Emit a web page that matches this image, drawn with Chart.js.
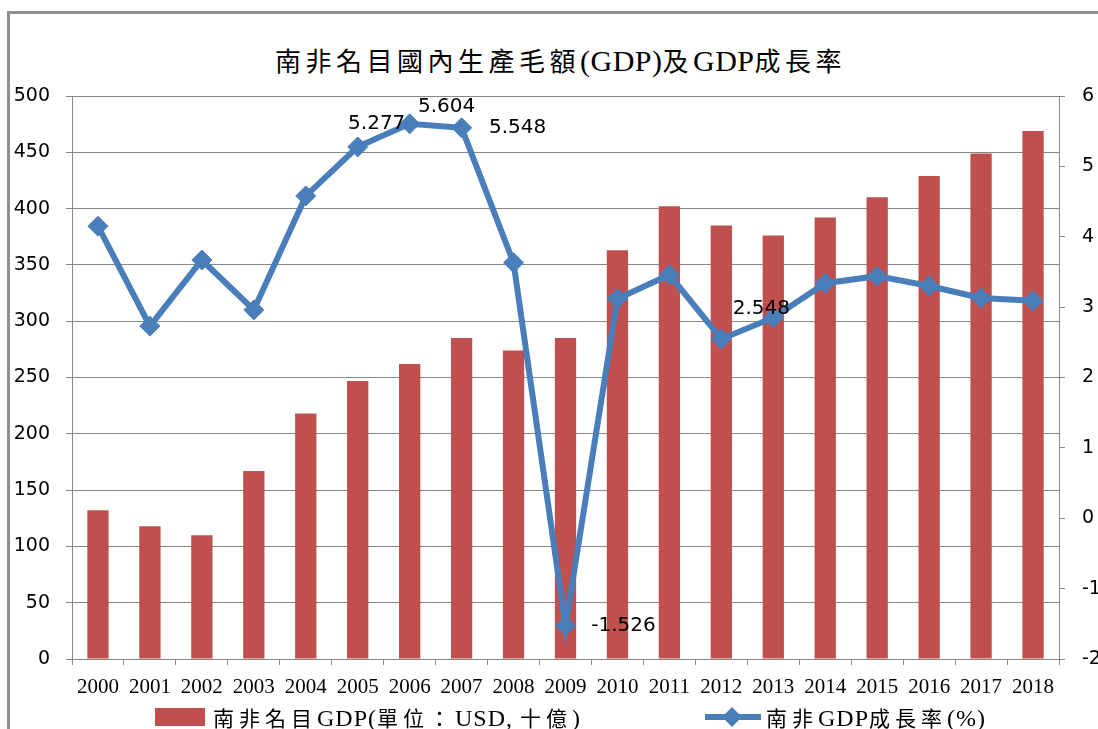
<!DOCTYPE html>
<html>
<head>
<meta charset="utf-8">
<script src="https://cdn.jsdelivr.net/npm/chart.js@4.4.1/dist/chart.umd.min.js"></script>
<style>
    body { margin: 0; background: #fff; overflow: hidden; }
    #frame { position: absolute; left: 7px; top: 11px; width: 1200px; height: 800px; border-top: 3px solid #8e8e8e; border-left: 3px solid #8e8e8e; }
    #title { position: absolute; left: 275px; top: 44px; font: 26px/32px "Noto Sans CJK TC", serif; letter-spacing: 4.5px; white-space: nowrap; color: #000; }
    #title .lat { font: 30px/32px "Liberation Serif", serif; letter-spacing: 0.5px; }
    #chartBox { position: absolute; left: 0; top: 0; width: 1098px; height: 729px; }
    #legend { position: absolute; top: 706px; left: 0; height: 22px; font: 21px/22px "Noto Sans CJK TC", serif; letter-spacing: 5px; color: #000; }
    #legend .lat { font: 24px/22px "Liberation Serif", serif; letter-spacing: 1px; }
    .item { position: absolute; top: 0; white-space: nowrap; display: flex; align-items: center; height: 22px; }
    .swatch { width: 50px; height: 18px; margin-right: 8px; }
    .lineMark { position: relative; width: 56px; height: 22px; margin-right: 5px; }
    .lineMark .bar { position: absolute; left: 0; top: 8px; width: 56px; height: 6px; }
    .lineMark .dia { position: absolute; left: 20px; top: 4px; width: 14px; height: 14px; transform: rotate(45deg); }
</style>
</head>
<body>
<div id="frame"></div>
<div id="title"></div>
<div id="chartBox"><canvas id="gdpChart"></canvas></div>
<div id="legend"></div>
<script>
const chartTitle = '南非名目國內生產毛額(GDP)及GDP成長率';
const years = ['2000', '2001', '2002', '2003', '2004', '2005', '2006', '2007', '2008', '2009',
               '2010', '2011', '2012', '2013', '2014', '2015', '2016', '2017', '2018'];
const gdpNominal = [132, 118, 110, 167, 218, 247, 262, 285, 274, 285,
                    363, 402, 385, 376, 392, 410, 429, 449, 469];
const growthRate = [4.15, 2.73, 3.67, 2.96, 4.58, 5.277, 5.604, 5.548, 3.63, -1.526,
                    3.12, 3.46, 2.548, 2.85, 3.34, 3.44, 3.30, 3.13, 3.09];
const gdpLabel = '南非名目GDP(單位：USD, 十億)';
const growthLabel = '南非GDP成長率(%)';
const leftTicks = [0, 500, 50];
const rightTicks = [-2, 6, 1];

// which points get a value label, and where it sits relative to the point
const labelOffsets = { 5: [19, -23], 6: [37, -17], 7: [56, 0], 9: [58, 0], 12: [40, -30] };

const barColor = '#c0504d';
const lineColor = '#4a7ebb';
const gridColor = '#878787';

// latin runs get their own (serif, tighter) font, like the original
function mixedText(el, text) {
    text.split(/([A-Za-z%(),. ]+)/).forEach(part => {
        if (!part) return;
        const span = document.createElement('span');
        if (/[A-Za-z%(),. ]/.test(part[0])) span.className = 'lat';
        span.textContent = part;
        el.appendChild(span);
    });
}
mixedText(document.getElementById('title'), chartTitle);

const pointLabels = {
    id: 'pointLabels',
    afterDatasetsDraw(chart) {
        const meta = chart.getDatasetMeta(1);
        const ctx = chart.ctx;
        ctx.save();
        ctx.font = '20px "DejaVu Sans"';
        ctx.fillStyle = '#000';
        ctx.textAlign = 'center';
        ctx.textBaseline = 'middle';
        Object.keys(labelOffsets).forEach(i => {
            const pt = meta.data[i];
            const [dx, dy] = labelOffsets[i];
            ctx.fillText(growthRate[i].toFixed(3), pt.x + dx, pt.y + dy);
        });
        ctx.restore();
    }
};

var ctx = document.getElementById('gdpChart').getContext('2d');
var chart = new Chart(ctx, {
    type: 'bar',
    data: {
        labels: years,
        datasets: [{
            type: 'bar',
            label: gdpLabel,
            data: gdpNominal,
            backgroundColor: barColor,
            barPercentage: 0.41,
            categoryPercentage: 1,
            yAxisID: 'y',
            order: 2
        }, {
            type: 'line',
            label: growthLabel,
            data: growthRate,
            borderColor: lineColor,
            backgroundColor: lineColor,
            borderWidth: 6,
            pointStyle: 'rectRot',
            pointRadius: 10,
            pointBorderWidth: 1,
            pointBackgroundColor: lineColor,
            tension: 0,
            yAxisID: 'y1',
            order: 1
        }]
    },
    options: {
        responsive: true,
        maintainAspectRatio: false,
        animation: false,
        layout: { padding: { top: 96, left: 0, right: 0, bottom: 0 } },
        plugins: {
            legend: { display: false },
            title: { display: false },
            tooltip: { enabled: false }
        },
        scales: {
            x: {
                offset: true,
                grid: { offset: true, drawOnChartArea: false, color: gridColor, tickLength: 6 },
                border: { color: gridColor, width: 1 },
                ticks: { color: '#000', padding: 10, maxRotation: 0, autoSkip: false, font: { family: 'Liberation Serif', size: 21 } },
                afterFit: s => { s.height = 70; }
            },
            y: {
                position: 'left',
                min: leftTicks[0],
                max: leftTicks[1],
                ticks: { stepSize: leftTicks[2], color: '#000', padding: 16, font: { family: 'DejaVu Sans', size: 19 } },
                grid: { color: gridColor, tickLength: 6 },
                border: { color: gridColor, width: 1 },
                afterFit: s => { s.width = 72; }
            },
            y1: {
                position: 'right',
                min: rightTicks[0],
                max: rightTicks[1],
                ticks: { stepSize: rightTicks[2], color: '#000', padding: 17, font: { family: 'DejaVu Sans', size: 19 } },
                grid: { drawOnChartArea: false, color: gridColor, tickLength: 6 },
                border: { color: gridColor, width: 1 },
                afterFit: s => { s.width = 39; }
            }
        }
    },
    plugins: [pointLabels]
});

// HTML legend built from the datasets
const legend = document.getElementById('legend');
const legendLeft = [155, 705];
chart.data.datasets.forEach((ds, i) => {
    const item = document.createElement('div');
    item.className = 'item';
    item.style.left = legendLeft[i] + 'px';
    if (ds.type === 'bar') {
        item.innerHTML = '<div class="swatch" style="background:' + ds.backgroundColor + '"></div>';
    } else {
        item.innerHTML = '<div class="lineMark"><div class="bar" style="background:' + ds.borderColor +
            '"></div><div class="dia" style="background:' + ds.borderColor + '"></div></div>';
    }
    const text = document.createElement('span');
    mixedText(text, ds.label);
    item.appendChild(text);
    legend.appendChild(item);
});
</script>
</body>
</html>
